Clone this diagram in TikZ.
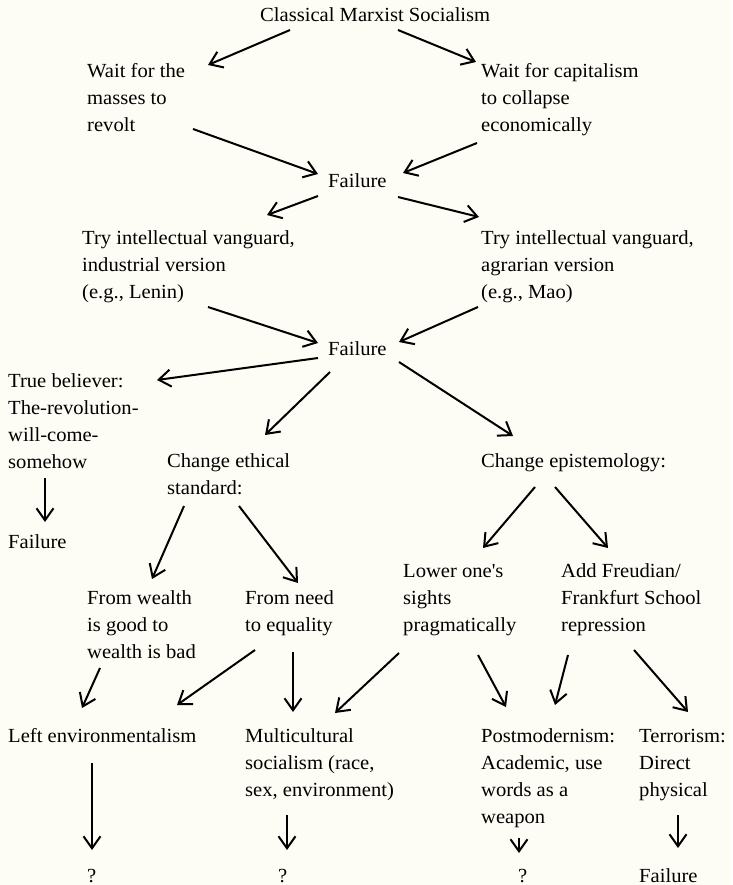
\documentclass[tikz,border=0pt]{standalone}
\usepackage{fontspec}
\setmainfont{Liberation Serif}[FakeStretch=1.03]
\usetikzlibrary{arrows.meta}
\definecolor{bgcream}{RGB}{253,253,245}
\newcommand{\linkarrow}[4]{\draw[arr] ([shift={(#2)}]#1.base west) -- ([shift={(#4)}]#3.base west);}
\newcommand{\mlines}[1]{\begin{tabular}[t]{@{}l@{}}#1\end{tabular}}
\begin{document}
\begin{tikzpicture}[x=1pt,y=-1pt,
  txt/.style={anchor=base west, inner sep=0pt, font=\fontsize{20}{27}\selectfont},
  arr/.style={line width=2pt, -{Straight Barb[length=12pt,width=17pt]}}]
\fill[bgcream] (0,0) rectangle (732,885);
\useasboundingbox (0,0) rectangle (732,885);

\node[txt] (cms) at (260,22) {Classical Marxist Socialism};
\node[txt] (wm) at (87,78) {\mlines{Wait for the\\masses to\\revolt}};
\node[txt] (wc) at (481,78) {\mlines{Wait for capitalism\\to collapse\\economically}};
\node[txt] (f1) at (328,188) {Failure};
\node[txt] (tl) at (82,244) {\mlines{Try intellectual vanguard,\\industrial version\\(e.g., Lenin)}};
\node[txt] (tm) at (481,244) {\mlines{Try intellectual vanguard,\\agrarian version\\(e.g., Mao)}};
\node[txt] (f2) at (328,355) {Failure};
\node[txt] (tb) at (8,387) {\mlines{True believer:\\The-revolution-\\will-come-\\somehow}};
\node[txt] (tbf) at (8,548) {Failure};
\node[txt] (ce) at (167,467) {\mlines{Change ethical\\standard:}};
\node[txt] (cep) at (481,467) {Change epistemology:};
\node[txt] (fw) at (87,604) {\mlines{From wealth\\is good to\\wealth is bad}};
\node[txt] (fn) at (245,604) {\mlines{From need\\to equality}};
\node[txt] (lo) at (403,577) {\mlines{Lower one\textquotesingle s\\sights\\pragmatically}};
\node[txt] (af) at (561,577) {\mlines{Add Freudian/\\Frankfurt School\\repression}};
\node[txt] (le) at (8,742) {Left environmentalism};
\node[txt] (mc) at (245,742) {\mlines{Multicultural\\socialism (race,\\sex, environment)}};
\node[txt] (pm) at (481,742) {\mlines{Postmodernism:\\Academic, use\\words as a\\weapon}};
\node[txt] (te) at (639,742) {\mlines{Terrorism:\\Direct\\physical}};
\node[txt] (q1) at (87,882) {?};
\node[txt] (q2) at (278,882) {?};
\node[txt] (q3) at (518,882) {?};
\node[txt] (tf) at (639,882) {Failure};

\linkarrow{cms}{30,8}{wm}{121,-13}
\linkarrow{cms}{138,8}{wc}{-5,-16}
\linkarrow{wm}{106,51}{f1}{-10,-14}
\linkarrow{wc}{-4,65}{f1}{75,-15}
\linkarrow{f1}{-10,8}{tl}{185,-29}
\linkarrow{f1}{70,9}{tm}{-2,-27}
\linkarrow{tl}{126,63}{f2}{-10,-12}
\linkarrow{tm}{-3,63}{f2}{71,-13}
\linkarrow{f2}{-10,3}{tb}{149,-7}
\linkarrow{f2}{2,17}{ce}{98,-32}
\linkarrow{f2}{71,7}{cep}{32,-31}
\linkarrow{tb}{37,91}{tbf}{37,-26}
\linkarrow{ce}{17,39}{fw}{65,-25}
\linkarrow{ce}{72,39}{fn}{53,-21}
\linkarrow{cep}{54,20}{lo}{80,-29}
\linkarrow{cep}{74,20}{af}{47,-29}
\linkarrow{fw}{13,64}{le}{74,-34}
\linkarrow{fn}{10,46}{le}{169,-37}
\linkarrow{fn}{48,48}{mc}{48,-30}
\linkarrow{lo}{-4,76}{mc}{90,-29}
\linkarrow{lo}{75,78}{pm}{25,-35}
\linkarrow{af}{7,78}{pm}{74,-37}
\linkarrow{af}{73,73}{te}{49,-30}
\linkarrow{le}{84,21}{q1}{5,-32}
\linkarrow{mc}{42,73}{q2}{9,-32}
\linkarrow{pm}{38,96}{q3}{1,-29}
\linkarrow{te}{39,73}{tf}{39,-34}
\end{tikzpicture}
\end{document}
